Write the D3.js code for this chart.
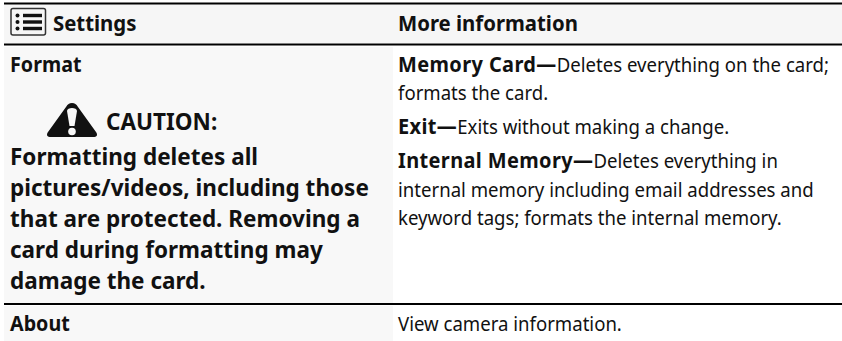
<!DOCTYPE html>
<html><head><meta charset="utf-8"><style>html,body{margin:0;padding:0;background:#fff}svg{display:block}text{font-family:"Noto Sans";fill:#111}</style>
<script src="https://cdn.jsdelivr.net/npm/d3@7"></script></head><body><script>
const headers = ["Settings", "More information"];
const leftLines = ["Format", "CAUTION:", "Formatting deletes all", "pictures/videos, including those", "that are protected. Removing a", "card during formatting may", "damage the card.", "About"];
const rightLines = [
 [["Memory Card—", 1], ["Deletes everything on the card;", 0]],
 [["formats the card.", 0]],
 [["Exit—", 1], ["Exits without making a change.", 0]],
 [["Internal Memory—", 1], ["Deletes everything in", 0]],
 [["internal memory including email addresses and", 0]],
 [["keyword tags; formats the internal memory.", 0]],
 [["View camera information.", 0]]
];
const headerX = [53, 398];
const leftX = [10, 106, 10, 10, 10, 10, 10, 10];
const leftY = [72, 130, 165, 196, 227, 258, 289, 331];
const leftSize = [21, 24, 24, 24, 24, 24, 24, 21];
const rightY = [72, 100, 134, 168, 197, 225, 331];
const rules = [3.5, 44.5, 304];
const svg = d3.select("body").append("svg").attr("width", 842).attr("height", 341);
const panels = [[4,4,838,39,"#f6f6f6"],[4,47,389,256,"#f8f8f8"],[4,306,389,35,"#f8f8f8"]];
svg.selectAll("rect.p").data(panels).join("rect").attr("class","p").attr("x",d=>d[0]).attr("y",d=>d[1]).attr("width",d=>d[2]).attr("height",d=>d[3]).attr("fill",d=>d[4]);
svg.selectAll("line.r").data(rules).join("line").attr("class","r").attr("x1",4).attr("x2",842).attr("y1",d=>d).attr("y2",d=>d).attr("stroke","#000").attr("stroke-width",2);
const hh = svg.selectAll("text.h").data(headers).join("text").attr("class","h").attr("font-size",21.5).attr("font-weight",700).text(d=>d);
const ll = svg.selectAll("text.l").data(leftLines).join("text").attr("class","l").attr("font-size",(d,i)=>leftSize[i]).attr("font-weight",700).text(d=>d);
const rt = svg.selectAll("text.rr").data(rightLines).join("text").attr("class","rr").attr("font-size",20);
rt.selectAll("tspan").data(d=>d).join("tspan").attr("font-weight",d=>d[1]?700:400).attr("font-size",d=>d[1]?21.5:20).attr("letter-spacing",d=>d[1]?0.4:0).text(d=>d[0]);
// horizontal fit to the measured extent of one reference line per group
const ratio = (sel, target) => target / sel.node().getComputedTextLength();
const sR = ratio(rt.filter((d,i)=>i===4), 416);
const sB = ratio(ll.filter((d,i)=>i===3), 359);
const sH = ratio(hh.filter((d,i)=>i===1), 180);
rt.attr("transform",(d,i)=>`translate(398,${rightY[i]}) scale(${sR},1)`);
ll.attr("transform",(d,i)=>`translate(${leftX[i]},${leftY[i]}) scale(${sB},1)`);
hh.attr("transform",(d,i)=>`translate(${headerX[i]},31) scale(${sH},1)`);
// list icon
const ic = svg.append("g").attr("transform","translate(11,8.5)");
ic.append("rect").attr("x",0).attr("y",0).attr("width",34.5).attr("height",26.5).attr("rx",2).attr("fill","#f6f6f6").attr("stroke","#333").attr("stroke-width",1.5);
[7,13.5,20].forEach(y=>{ic.append("circle").attr("cx",6.5).attr("cy",y).attr("r",2).attr("fill","#111");ic.append("rect").attr("x",12).attr("y",y-1.7).attr("width",19).attr("height",3.4).attr("fill","#111");});
// caution triangle
const w = svg.append("g").attr("transform","translate(47,103)");
w.append("path").attr("d","M25 0 C28 0 29 1 31 4 L49 29 C51 32 50 34 46 34 L4 34 C0 34 -1 32 1 29 L19 4 C21 1 22 0 25 0Z").attr("fill","#111");
w.append("path").attr("d","M20 8 C20 4 30 4 30 8 L27.5 23 L22.5 23Z").attr("fill","#f8f8f8");
w.append("circle").attr("cx",25).attr("cy",28.5).attr("r",3.8).attr("fill","#f8f8f8");
</script></body></html>
